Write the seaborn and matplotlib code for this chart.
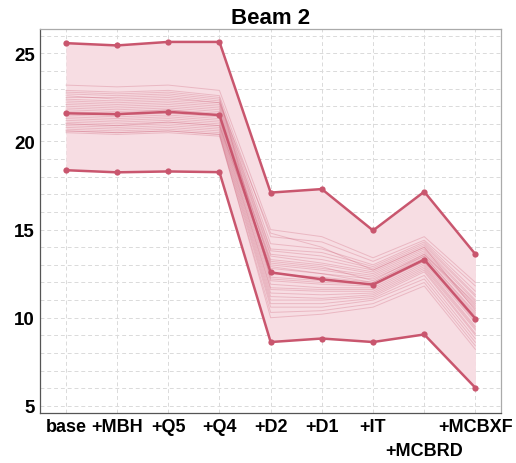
import matplotlib
matplotlib.use("Agg")
import matplotlib.pyplot as plt
import seaborn as sns
import pandas as pd
import numpy as np

steps = ["base", "+MBH", "+Q5", "+Q4", "+D2", "+D1", "+IT", "+MCBRD", "+MCBXF"]
max_vals = [25.58, 25.45, 25.65, 25.65, 17.1, 17.3, 14.95, 17.15, 13.6]
mean_vals = [21.6, 21.55, 21.68, 21.5, 12.57, 12.18, 11.88, 13.3, 9.95]
min_vals = [18.37, 18.25, 18.3, 18.26, 8.62, 8.82, 8.62, 9.05, 6.02]

seeds = [
    [23.2, 23.1, 23.2, 22.9, 15.0, 14.6, 13.4, 14.6, 12.0],
    [22.9, 22.8, 22.9, 22.6, 14.6, 14.3, 13.2, 14.4, 11.8],
    [22.7, 22.6, 22.7, 22.4, 14.2, 13.9, 13.0, 14.3, 11.5],
    [22.5, 22.5, 22.6, 22.3, 13.9, 13.7, 12.9, 14.2, 11.3],
    [22.4, 22.3, 22.4, 22.2, 13.8, 13.5, 12.8, 14.1, 11.2],
    [22.3, 22.2, 22.3, 22.1, 13.6, 13.3, 12.7, 14.0, 11.0],
    [22.2, 22.1, 22.2, 22.0, 13.5, 13.1, 12.6, 13.9, 10.9],
    [22.1, 22.0, 22.1, 21.9, 13.3, 13.0, 12.5, 13.8, 10.7],
    [22.0, 21.9, 22.0, 21.8, 13.1, 12.8, 12.4, 13.7, 10.6],
    [21.9, 21.8, 21.9, 21.7, 13.0, 12.7, 12.3, 13.6, 10.5],
    [21.8, 21.7, 21.8, 21.6, 12.8, 12.5, 12.2, 13.5, 10.3],
    [21.6, 21.5, 21.6, 21.4, 12.5, 12.3, 12.0, 13.4, 10.1],
    [21.5, 21.4, 21.5, 21.3, 12.3, 12.1, 11.9, 13.3, 9.9],
    [21.4, 21.3, 21.4, 21.2, 12.1, 11.9, 11.8, 13.2, 9.8],
    [21.3, 21.2, 21.3, 21.1, 11.9, 11.7, 11.7, 13.1, 9.7],
    [21.2, 21.1, 21.2, 21.0, 11.7, 11.6, 11.6, 13.0, 9.5],
    [21.1, 21.0, 21.1, 20.9, 11.6, 11.5, 11.5, 12.9, 9.4],
    [21.0, 20.9, 21.0, 20.8, 11.4, 11.3, 11.4, 12.8, 9.3],
    [20.9, 20.8, 20.9, 20.7, 11.2, 11.1, 11.3, 12.7, 9.1],
    [20.8, 20.7, 20.8, 20.6, 11.0, 11.0, 11.2, 12.6, 9.0],
    [20.7, 20.6, 20.7, 20.5, 10.8, 10.8, 11.1, 12.4, 8.8],
    [20.6, 20.5, 20.6, 20.4, 10.6, 10.6, 11.0, 12.2, 8.6],
    [20.5, 20.4, 20.5, 20.3, 10.3, 10.4, 10.8, 12.0, 8.4],
    [22.6, 22.4, 22.5, 22.2, 14.8, 14.0, 12.7, 14.0, 10.4],
    [21.7, 21.6, 21.8, 21.5, 13.2, 12.9, 12.1, 13.6, 10.8],
    [22.8, 22.7, 22.8, 22.5, 12.2, 12.0, 11.9, 13.2, 10.0],
    [21.0, 20.9, 21.1, 20.9, 12.9, 12.5, 12.0, 13.5, 10.2],
    [20.6, 20.5, 20.6, 20.4, 10.0, 10.2, 10.6, 11.8, 8.2],
]

line_color = "#c9566e"
fill_color = "#f7dde3"

sns.set_theme(style="whitegrid")
plt.rcParams['font.family'] = ['Liberation Sans', 'DejaVu Sans']

fig, ax = plt.subplots(figsize=(5.16, 4.64), dpi=100)
fig.subplots_adjust(left=0.078, right=0.971, top=0.936, bottom=0.108)

x = np.arange(len(steps))
ax.fill_between(x, min_vals, max_vals, color=fill_color, alpha=1.0, zorder=1, linewidth=0)

for i, s in enumerate(seeds):
    df = pd.DataFrame({"x": x, "y": s})
    sns.lineplot(data=df, x="x", y="y", ax=ax, color=line_color, alpha=0.28,
                 linewidth=0.7, zorder=2)

for vals in (max_vals, mean_vals, min_vals):
    df = pd.DataFrame({"x": x, "y": vals})
    sns.lineplot(data=df, x="x", y="y", ax=ax, color=line_color, linewidth=1.8,
                 marker="o", markersize=4.5, markeredgewidth=0, zorder=4)

ax.set_xlim(-0.5, 8.5)
ax.set_ylim(4.6, 26.4)
ax.set_xticks(x)
ax.set_xticklabels(steps, fontsize=13, fontweight="bold", color="black")
ax.set_yticks([5, 10, 15, 20, 25])
ax.set_yticklabels(["5", "10", "15", "20", "25"], fontsize=13.5, fontweight="bold", color="black")
ax.set_yticks(np.arange(5, 27, 1), minor=True)
ax.set_xlabel("")
ax.set_ylabel("")
ax.set_title("Beam 2", fontsize=16, fontweight="bold", pad=4, color="black")

ax.set_facecolor("white")
ax.grid(True, which="both", axis="y", linestyle=(0, (4, 3)), color="#dadada", linewidth=0.7)
ax.grid(True, which="major", axis="x", linestyle=(0, (4, 3)), color="#dadada", linewidth=0.7)
for sp in ax.spines.values():
    sp.set_visible(True)
    sp.set_color("#aaaaaa")
    sp.set_linewidth(0.9)
ax.spines["left"].set_color("#555555")
ax.spines["bottom"].set_color("#555555")
ax.tick_params(axis="both", which="major", length=0, pad=4)
ax.tick_params(axis="both", which="minor", length=0)
ax.xaxis.get_major_ticks()[steps.index("+MCBRD")].set_pad(21)

fig.savefig("out.png", dpi=100)
